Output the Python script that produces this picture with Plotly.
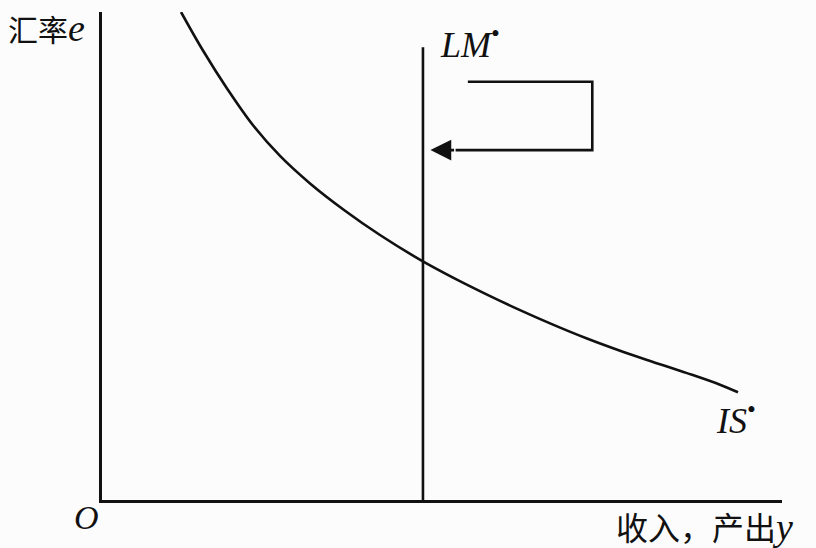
import plotly.graph_objects as go

# IS* curve (income y, exchange rate e)
is_y = [11.62, 14.85, 18.53, 22.21, 26.18, 30.59, 35.74, 40.88, 47.06,
        51.62, 56.62, 61.47, 66.32, 71.32, 76.18, 81.03, 86.03, 90.88, 93.53]
is_e = [100.0, 92.11, 84.02, 76.78, 70.51, 64.88, 59.28, 54.30, 49.00,
        45.57, 42.09, 38.91, 35.94, 33.09, 30.59, 28.30, 26.00, 23.63, 22.07]

# LM* vertical line
lm_y = [47.2, 47.2]
lm_e = [0, 92.8]

# Shift arrow path (top segment, right side, bottom segment to tip)
arrow_y = [53.8, 72.1, 72.1, 52.0]
arrow_e = [85.7, 85.7, 71.7, 71.7]
arrow_tip = (48.3, 71.7)

BLACK = "#111111"
SERIF = "Liberation Serif, Times New Roman, serif"
CJK = "Noto Sans CJK SC"

fig = go.Figure()
fig.add_trace(go.Scatter(x=is_y, y=is_e, mode="lines", line=dict(color=BLACK, width=2.6, shape="spline"),
                         cliponaxis=False, hoverinfo="skip"))
fig.add_trace(go.Scatter(x=lm_y, y=lm_e, mode="lines", line=dict(color=BLACK, width=2.6),
                         cliponaxis=False, hoverinfo="skip"))
fig.add_trace(go.Scatter(x=arrow_y, y=arrow_e, mode="lines", line=dict(color=BLACK, width=2.6),
                         cliponaxis=False, hoverinfo="skip"))

fig.add_annotation(x=arrow_tip[0], y=arrow_tip[1], ax=arrow_y[-1], ay=arrow_e[-1],
                   xref="x", yref="y", axref="x", ayref="y", text="",
                   showarrow=True, arrowhead=2, arrowsize=1.6, arrowwidth=2.6, arrowcolor=BLACK)

# Labels
fig.add_annotation(x=0, y=1.0, xref="paper", yref="paper", xshift=-96, yshift=-16,
                   text="<span style='font-family:Noto Sans CJK SC;font-size:30px'>汇率</span><i>e</i>",
                   showarrow=False, xanchor="left", yanchor="middle",
                   font=dict(family=SERIF, size=38, color=BLACK))
fig.add_annotation(x=0, y=0, xref="paper", yref="paper", xshift=-16, yshift=-17,
                   text="<i>O</i>", showarrow=False, xanchor="center", yanchor="middle",
                   font=dict(family=SERIF, size=34, color=BLACK))
fig.add_annotation(x=1, y=0, xref="paper", yref="paper", xshift=-168, yshift=-26,
                   text="<span style='font-family:Noto Sans CJK SC;font-size:32px'>收入，产出</span><i>y</i>",
                   showarrow=False, xanchor="left", yanchor="middle",
                   font=dict(family=SERIF, size=38, color=BLACK))
fig.add_annotation(x=lm_y[1], y=lm_e[1], xref="x", yref="y", xshift=15, yshift=5,
                   text="<i>LM</i><sup>•</sup>", showarrow=False, xanchor="left", yanchor="middle",
                   font=dict(family=SERIF, size=36, color=BLACK))
fig.add_annotation(x=is_y[-1], y=is_e[-1], xref="x", yref="y", xshift=-24, yshift=-26,
                   text="<i>IS</i><sup>•</sup>", showarrow=False, xanchor="left", yanchor="middle",
                   font=dict(family=SERIF, size=36, color=BLACK))

fig.update_xaxes(range=[0, 100], showline=True, linecolor=BLACK, linewidth=2.6,
                 showgrid=False, zeroline=False, showticklabels=False, ticks="", mirror=False)
fig.update_yaxes(range=[0, 100], showline=True, linecolor=BLACK, linewidth=2.6,
                 showgrid=False, zeroline=False, showticklabels=False, ticks="", mirror=False)

fig.update_layout(width=816, height=548, margin=dict(l=102, r=34, t=12, b=48),
                  paper_bgcolor="#fcfcfd", plot_bgcolor="#fcfcfd", showlegend=False)

fig.write_html("out.html", config={"displayModeBar": False},
               post_script="document.body.style.margin='0';")
